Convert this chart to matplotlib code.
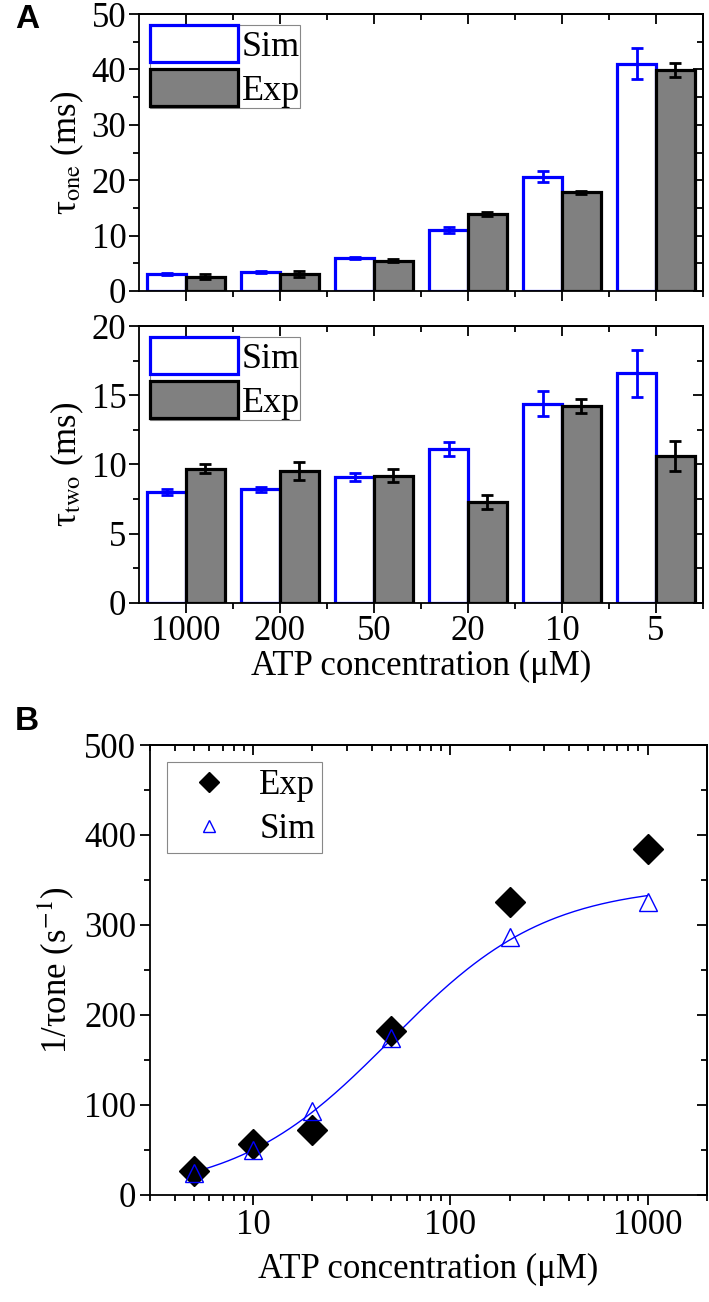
import numpy as np
import matplotlib
matplotlib.use('Agg')
import matplotlib.pyplot as plt
from matplotlib.ticker import MultipleLocator, LogLocator, NullFormatter

plt.rcParams['font.family'] = ['Liberation Serif', 'DejaVu Serif']
plt.rcParams['mathtext.fontset'] = 'stix'
plt.rcParams['axes.linewidth'] = 1.3

# panel A data (ATP concentration categories, in uM)
conc_labels = ['1000', '200', '50', '20', '10', '5']
tau_one_sim = [3.0, 3.5, 5.9, 11.0, 20.6, 41.0]
tau_one_sim_err = [0.2, 0.2, 0.2, 0.5, 1.0, 2.8]
tau_one_exp = [2.6, 3.1, 5.5, 13.9, 17.8, 39.9]
tau_one_exp_err = [0.5, 0.5, 0.2, 0.4, 0.3, 1.3]
tau_two_sim = [8.0, 8.2, 9.1, 11.1, 14.4, 16.6]
tau_two_sim_err = [0.2, 0.2, 0.3, 0.5, 0.9, 1.7]
tau_two_exp = [9.7, 9.5, 9.2, 7.3, 14.2, 10.6]
tau_two_exp_err = [0.35, 0.65, 0.48, 0.5, 0.5, 1.1]

# panel B data
atp = [5, 10, 20, 50, 200, 1000]
rate_exp = [27, 57, 72, 182, 326, 384]
rate_sim = [24, 50, 93, 174, 287, 325]
# Hill curve through the sim points
vmax, k_half, n_hill = 345, 50, 1.1

FS = 25
BLUE = '#0000ff'

fig = plt.figure(figsize=(7.09, 13.02), dpi=100)


def mirror_ticks(ax, xmajor, xminor, ymajor, yminor):
    # Origin style: ticks out on bottom/left, in on top/right
    top = ax.secondary_xaxis('top')
    top.set_xticks(xmajor)
    top.set_xticks(xminor, minor=True)
    top.tick_params(which='both', direction='in', labeltop=False)
    top.tick_params(which='major', length=7, width=1.3)
    top.tick_params(which='minor', length=4, width=1.3)
    right = ax.secondary_yaxis('right')
    right.set_yticks(ymajor)
    right.set_yticks(yminor, minor=True)
    right.tick_params(which='both', direction='in', labelright=False)
    right.tick_params(which='major', length=7, width=1.3)
    right.tick_params(which='minor', length=4, width=1.3)


def bar_panel(ax, sim, sim_err, exp, exp_err, ymax, ystep, ylabel, show_x):
    x = np.arange(len(conc_labels))
    w = 0.41
    ax.bar(x - w / 2, sim, w, color='white', edgecolor=BLUE, linewidth=2.3,
           label='Sim', zorder=2)
    ax.bar(x + w / 2, exp, w, color='#808080', edgecolor='black', linewidth=2.3,
           label='Exp', zorder=2)
    ax.errorbar(x - w / 2, sim, yerr=sim_err, fmt='none', ecolor=BLUE,
                elinewidth=2, capsize=4, capthick=2, zorder=3)
    ax.errorbar(x + w / 2, exp, yerr=exp_err, fmt='none', ecolor='black',
                elinewidth=2, capsize=4, capthick=2, zorder=3)
    ax.set_xlim(-0.5, 5.5)
    ax.set_ylim(0, ymax)
    ax.set_xticks(x)
    ax.set_xticks(x + 0.5, minor=True)
    ax.yaxis.set_major_locator(MultipleLocator(ystep))
    ax.yaxis.set_minor_locator(MultipleLocator(ystep / 2))
    ax.tick_params(which='both', direction='out', labelsize=FS, width=1.3, pad=2)
    ax.tick_params(which='major', length=7)
    ax.tick_params(which='minor', length=4)
    if show_x:
        ax.set_xticklabels(conc_labels)
        ax.set_xlabel('ATP concentration (μM)', fontsize=FS, labelpad=1)
    else:
        ax.set_xticklabels([])
    ax.set_ylabel(ylabel, fontsize=FS, labelpad=4)
    mirror_ticks(ax, x, x + 0.5, np.arange(0, ymax + 0.1, ystep),
                 np.arange(ystep / 2, ymax, ystep))
    leg = ax.legend(loc='upper left', fontsize=FS + 1, handlelength=2.45,
                    handleheight=1.2, labelspacing=0.15, handletextpad=0.1,
                    borderpad=0.0, borderaxespad=0.3, fancybox=False,
                    framealpha=1)
    leg.get_frame().set_edgecolor('#888888')
    leg.get_frame().set_linewidth(0.8)


ax1 = fig.add_axes([0.196, 0.7765, 0.7955, 0.2127])
bar_panel(ax1, tau_one_sim, tau_one_sim_err, tau_one_exp, tau_one_exp_err,
          50, 10, 'τ$_{\\rm one}$ (ms)', False)

ax2 = fig.add_axes([0.196, 0.5369, 0.7955, 0.2127])
bar_panel(ax2, tau_two_sim, tau_two_sim_err, tau_two_exp, tau_two_exp_err,
          20, 5, 'τ$_{\\rm two}$ (ms)', True)

# panel B
ax3 = fig.add_axes([0.2116, 0.0822, 0.7854, 0.3456])
xs = np.logspace(np.log10(5), np.log10(1000), 200)
ax3.plot(xs, vmax * xs ** n_hill / (k_half ** n_hill + xs ** n_hill),
         color=BLUE, linewidth=1.0, zorder=2)
ax3.plot(atp, rate_exp, linestyle='none', marker='D', markersize=15,
         color='black', label='Exp', zorder=3)
ax3.plot(atp, rate_sim, linestyle='none', marker='^', markersize=13,
         markerfacecolor='none', markeredgecolor=BLUE, markeredgewidth=1.0,
         label='Sim', zorder=4)
ax3.set_xscale('log')
ax3.set_xlim(3, 2000)
ax3.set_ylim(0, 500)
ax3.set_xticks([10, 100, 1000])
ax3.set_xticklabels(['10', '100', '1000'])
ax3.xaxis.set_minor_locator(LogLocator(base=10, subs=np.arange(2, 10)))
ax3.xaxis.set_minor_formatter(NullFormatter())
ax3.yaxis.set_major_locator(MultipleLocator(100))
ax3.yaxis.set_minor_locator(MultipleLocator(50))
ax3.tick_params(which='both', direction='out', labelsize=FS, width=1.3, pad=3)
ax3.tick_params(which='major', length=7)
ax3.tick_params(which='minor', length=4)
ax3.set_xlabel('ATP concentration (μM)', fontsize=FS, labelpad=8)
ax3.set_ylabel('1/τone (s$^{-1}$)', fontsize=FS, labelpad=6)
minors = [m * 10 ** e for e in range(0, 4) for m in range(2, 10)
          if 3 <= m * 10 ** e <= 2000]
mirror_ticks(ax3, [10, 100, 1000], minors, np.arange(0, 501, 100),
             np.arange(50, 500, 100))
leg = ax3.legend(loc='upper left', fontsize=FS, markerscale=0.65,
                 handletextpad=0.45, borderpad=0.2, labelspacing=0.3,
                 borderaxespad=0.5, fancybox=False, framealpha=1)
leg.get_frame().set_edgecolor('#888888')
leg.get_frame().set_linewidth(0.8)

fig.text(0.038, 0.985, 'A', fontsize=24, fontweight='bold',
         family='Liberation Sans', ha='center', va='center')
fig.text(0.038, 0.4455, 'B', fontsize=24, fontweight='bold',
         family='Liberation Sans', ha='center', va='center')

fig.savefig('out.png', dpi=100)
